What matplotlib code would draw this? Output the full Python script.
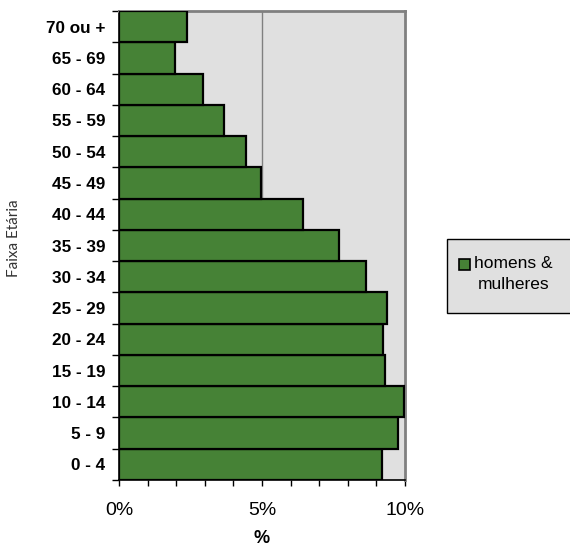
import matplotlib

matplotlib.use("Agg")
import matplotlib.pyplot as plt
from matplotlib.patches import Rectangle
from matplotlib.ticker import FuncFormatter, MultipleLocator

# Age groups, bottom to top, and share of population (%)
age_groups = ["0 - 4", "5 - 9", "10 - 14", "15 - 19", "20 - 24", "25 - 29",
              "30 - 34", "35 - 39", "40 - 44", "45 - 49", "50 - 54", "55 - 59",
              "60 - 64", "65 - 69", "70 ou +"]
share_pct = [9.20, 9.77, 9.97, 9.30, 9.24, 9.36, 8.64, 7.70, 6.42, 4.97,
             4.44, 3.67, 2.94, 1.96, 2.38]
series_label = "homens &\nmulheres"

BAR_COLOR = "#468236"
PLOT_BG = "#e0e0e0"
FRAME_GRAY = "#808080"

plt.rcParams["font.family"] = ["Liberation Sans", "DejaVu Sans"]

fig = plt.figure(figsize=(5.7, 5.52), dpi=100)
ax = fig.add_axes([0.2088, 0.1304, 0.5018, 0.8496])
ax.set_facecolor(PLOT_BG)

y = range(len(age_groups))
bars = ax.barh(y, share_pct, height=1.0, color=BAR_COLOR, edgecolor="black",
               linewidth=1.6, label=series_label, zorder=3)

ax.set_xlim(0, 10)
ax.set_ylim(-0.5, len(age_groups) - 0.5)

# gridline at 5%
ax.axvline(5, color=FRAME_GRAY, linewidth=1.0, zorder=1)

# x axis: major every 5%, minor every 1%
ax.xaxis.set_major_locator(MultipleLocator(5))
ax.xaxis.set_minor_locator(MultipleLocator(1))
ax.xaxis.set_major_formatter(FuncFormatter(lambda v, _: f"{v:.0f}%"))
ax.tick_params(axis="x", which="both", direction="out", length=4, width=1,
               labelsize=14, pad=11.5)

# y axis: labels centered on bars, ticks at category boundaries
ax.set_yticks(list(y))
ax.set_yticklabels(age_groups, fontsize=12.3, fontweight="bold")
ax.tick_params(axis="y", which="major", length=0, pad=10)
ax.set_yticks([i - 0.5 for i in range(len(age_groups) + 1)], minor=True)
ax.tick_params(axis="y", which="minor", direction="out", length=5, width=1)

for side in ("left", "bottom"):
    ax.spines[side].set_color("black")
    ax.spines[side].set_linewidth(1.2)
for side in ("top", "right"):
    ax.spines[side].set_color(FRAME_GRAY)
    ax.spines[side].set_linewidth(2)

ax.set_xlabel("%", fontsize=13, fontweight="bold", labelpad=8)
fig.text(14 / 570, 1 - 238 / 552, "Faixa Etária", rotation=90, ha="center",
         va="center", fontsize=11, color="#333333",
         family=["Lato", "DejaVu Sans"])

# legend box on the right
fig.patches.append(Rectangle((447 / 570, 1 - 313 / 552), 130 / 570, 74 / 552,
                             transform=fig.transFigure, facecolor=PLOT_BG,
                             edgecolor="black", linewidth=1.0))
leg = fig.legend(handles=[bars], labels=[series_label], frameon=False,
                 loc="center", bbox_to_anchor=(506 / 570, 1 - 274 / 552),
                 fontsize=12.5, handlelength=0.6, handleheight=0.6,
                 handletextpad=0.25, borderpad=0)
for t in leg.get_texts():
    t.set_multialignment("center")
    t.set_linespacing(1.45)
for h in leg.legend_handles:
    h.set_linewidth(1.2)
    h.set_y(h.get_y() + 7)

fig.savefig("out.png", dpi=100)
